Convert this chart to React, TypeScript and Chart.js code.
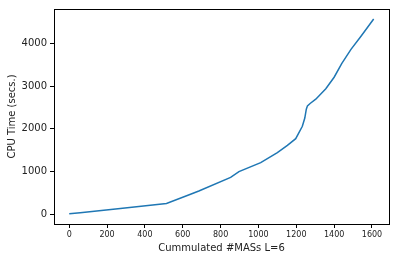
import React, { useEffect, useRef } from "react";
import { Chart, registerables } from "chart.js";

Chart.register(...registerables);

const masCount = [0, 58, 270, 514, 641, 685, 853, 897, 1012, 1100, 1153, 1197, 1232, 1245, 1253, 1259, 1273, 1303, 1356, 1400, 1440, 1489, 1542, 1609];
const cpuTime = [10, 37, 137, 253, 468, 544, 862, 1000, 1209, 1443, 1613, 1770, 2062, 2253, 2460, 2540, 2595, 2696, 2940, 3210, 3530, 3862, 4170, 4576];
const xTicks = [0, 200, 400, 600, 800, 1000, 1200, 1400, 1600];
const yTicks = [0, 1000, 2000, 3000, 4000];

const boxPlugin = {
  id: "box",
  afterDraw(chart: any) {
    const { ctx, chartArea } = chart;
    ctx.save();
    ctx.strokeStyle = "#000";
    ctx.lineWidth = 1;
    ctx.strokeRect(
      Math.round(chartArea.left) + 0.5,
      Math.round(chartArea.top) + 0.5,
      Math.round(chartArea.right - chartArea.left),
      Math.round(chartArea.bottom - chartArea.top)
    );
    ctx.restore();
  },
};

export default function App() {
  const ref = useRef<HTMLCanvasElement | null>(null);
  useEffect(() => {
    document.body.style.margin = "0";
    const data = masCount.map((x, i) => ({ x, y: cpuTime[i] }));
    const chart = new Chart(ref.current!, {
      type: "line",
      data: {
        datasets: [
          {
            data,
            borderColor: "#1f77b4",
            borderWidth: 1.5,
            pointRadius: 0,
            tension: 0,
            fill: false,
          },
        ],
      },
      options: {
        animation: false,
        responsive: false,
        maintainAspectRatio: false,
        layout: { padding: { top: 6, right: 6, left: 0, bottom: 0 } },
        plugins: { legend: { display: false }, tooltip: { enabled: false } },
        scales: {
          x: {
            type: "linear",
            min: -80.5,
            max: 1690,
            afterBuildTicks: (axis: any) => {
              axis.ticks = xTicks.map((v) => ({ value: v }));
            },
            afterFit: (axis: any) => {
              axis.height = 37;
            },
            grid: { display: true, drawOnChartArea: false, drawTicks: true, tickLength: 4, tickColor: "#000" },
            border: { display: true, color: "#000" },
            ticks: { color: "#222", font: { family: "DejaVu Sans", size: 8 }, padding: 2, maxRotation: 0, autoSkip: false, callback: (v: any) => String(v) },
            title: { display: true, text: "Cummulated #MASs L=6", color: "#222", font: { family: "DejaVu Sans", size: 10 }, padding: { top: 2, bottom: 7 } },
          },
          y: {
            type: "linear",
            min: -229,
            max: 4809,
            afterBuildTicks: (axis: any) => {
              axis.ticks = yTicks.map((v) => ({ value: v }));
            },
            afterFit: (axis: any) => {
              axis.width = 54;
            },
            grid: { display: true, drawOnChartArea: false, drawTicks: true, tickLength: 4, tickColor: "#000" },
            border: { display: true, color: "#000" },
            ticks: { color: "#222", font: { family: "DejaVu Sans", size: 10 }, padding: 3, autoSkip: false, callback: (v: any) => String(v) },
            title: { display: true, text: "CPU Time (secs.)", color: "#222", font: { family: "DejaVu Sans", size: 10 }, padding: { top: 6, bottom: 0 } },
          },
        },
      },
      plugins: [boxPlugin],
    });
    return () => chart.destroy();
  }, []);
  return (
    <div style={{ width: 395, height: 261 }}>
      <canvas ref={ref} width={395} height={261} style={{ width: 395, height: 261 }} />
    </div>
  );
}
